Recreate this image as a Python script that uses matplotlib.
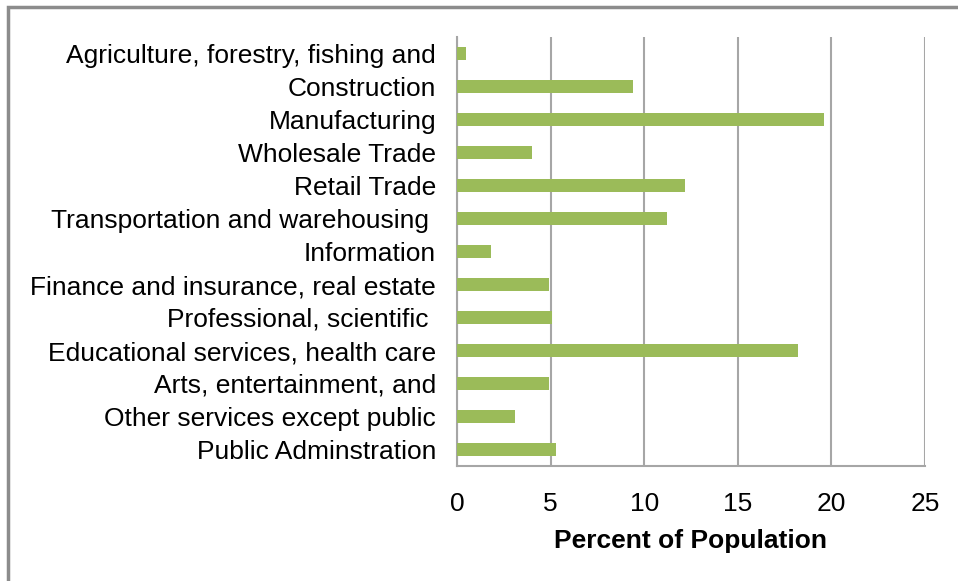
import matplotlib
matplotlib.use("Agg")
import matplotlib.pyplot as plt
from matplotlib.patches import Rectangle

# ---------- data ----------
industries = [
    "Agriculture, forestry, fishing and",
    "Construction",
    "Manufacturing",
    "Wholesale Trade",
    "Retail Trade",
    "Transportation and warehousing ",
    "Information",
    "Finance and insurance, real estate",
    "Professional, scientific ",
    "Educational services, health care",
    "Arts, entertainment, and",
    "Other services except public",
    "Public Adminstration",
]
percent = [0.5, 9.4, 19.6, 4.0, 12.2, 11.2, 1.8, 4.9, 5.1, 18.2, 4.9, 3.1, 5.3]
xticks = [0, 5, 10, 15, 20, 25]

plt.rcParams["font.family"] = ["Liberation Sans", "DejaVu Sans"]

W, H = 958, 581
fig = plt.figure(figsize=(W / 100, H / 100), dpi=100)

# outer chart frame (top/left edges visible)
fig.patches.append(Rectangle((8 / W, -0.1), 1.2, 1 - 7 / H + 0.1,
                             transform=fig.transFigure, fill=False,
                             edgecolor="#8c8c8c", linewidth=2.5))

ax = fig.add_axes([457 / W, 1 - 466 / H, (925 - 457) / W, (466 - 37) / H])

ypos = list(range(len(industries)))
ax.barh(ypos, percent, height=0.4, color="#9BBB59", zorder=3)
ax.set_ylim(len(industries) - 0.5, -0.5)
ax.set_xlim(0, 25)

ax.set_yticks(ypos)
ax.set_yticklabels(industries, fontsize=19)
ax.set_xticks(xticks)
ax.set_xticklabels([str(t) for t in xticks], fontsize=19)
ax.tick_params(axis="y", length=0, pad=15)
ax.tick_params(axis="x", length=0, pad=19)

ax.grid(axis="x", color="#a6a6a6", linewidth=1.5, zorder=0)
for s in ["top", "right"]:
    ax.spines[s].set_visible(False)
for s in ["left", "bottom"]:
    ax.spines[s].set_color("#a6a6a6")
    ax.spines[s].set_linewidth(1.5)

ax.set_xlabel("Percent of Population", fontsize=19, fontweight="bold", labelpad=9)

fig.savefig("out.png", dpi=100)
